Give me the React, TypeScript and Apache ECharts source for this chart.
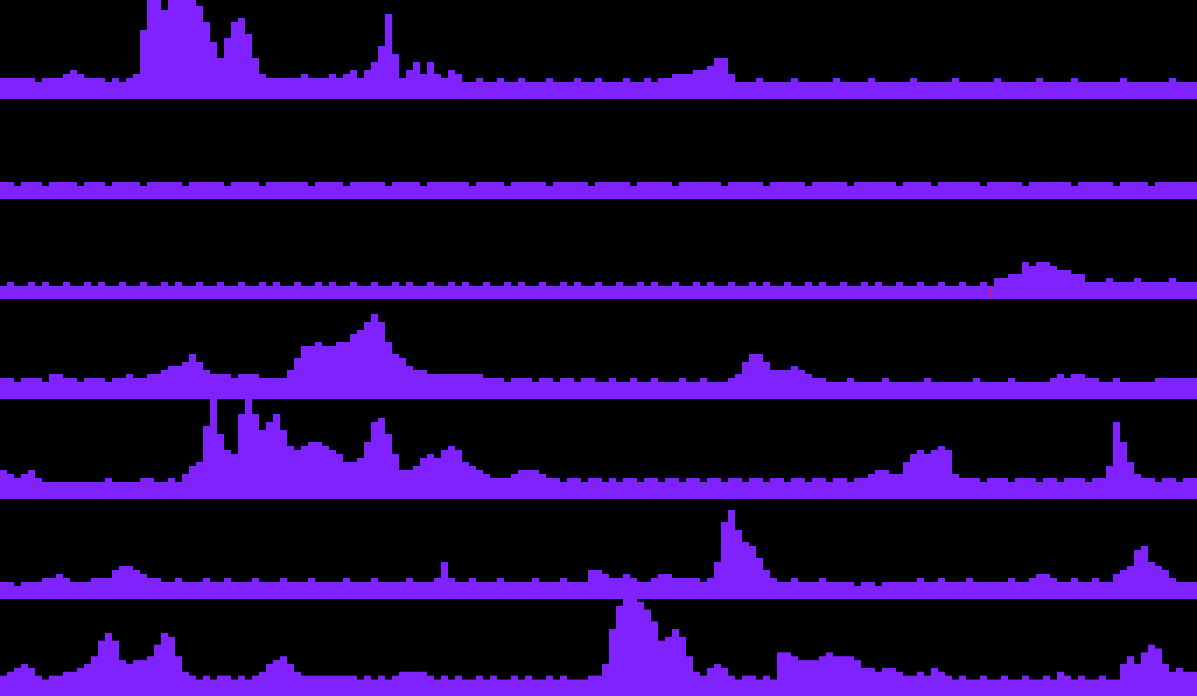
import React, { useEffect, useRef } from "react";
import * as echarts from "echarts";

// Levels per row: bar height = 4 px per level (+1 px), 171 bins of 7 px each.
const ROW1 = [
  5,5,5,5,5,4,5,5,5,6,
  7,6,5,5,5,4,5,4,5,6,
  17,25,25,22,25,25,25,25,23,19,
  14,10,15,19,20,16,10,6,5,5,
  5,5,5,6,5,5,5,6,5,6,
  7,5,7,9,13,21,11,5,7,9,
  6,9,6,5,7,6,4,4,5,4,
  4,5,4,4,5,4,4,4,5,4,
  4,4,5,4,4,5,4,4,4,5,
  4,4,5,4,5,5,6,6,6,7,
  7,8,10,10,6,4,4,4,5,4,
  4,4,4,5,4,4,4,4,4,5,
  4,4,4,4,5,4,4,4,4,4,
  5,4,4,4,4,4,5,4,4,4,
  4,4,5,4,4,4,4,4,5,4,
  4,4,4,5,4,4,4,4,4,4,
  5,4,4,4,4,4,4,5,4,4,
  4,
];
const ROW2 = [
  4,4,3,4,4,4,3,4,4,4,
  4,3,4,4,4,3,4,4,4,4,
  3,4,4,4,4,4,3,4,4,4,
  4,4,3,4,4,4,4,3,4,4,
  4,4,4,4,3,4,4,4,4,3,
  4,4,4,4,4,3,4,4,4,4,
  3,4,4,4,4,4,4,3,4,4,
  4,4,3,4,4,4,4,4,3,4,
  4,4,4,4,3,4,4,4,4,4,
  3,4,4,4,4,4,3,4,4,4,
  4,4,4,3,4,4,4,4,4,3,
  4,4,4,4,4,3,4,4,4,4,
  4,3,4,4,4,4,4,4,3,4,
  4,4,4,3,4,4,4,4,4,4,
  3,4,4,4,4,4,3,4,4,4,
  4,4,4,3,4,4,4,4,4,3,
  4,4,4,4,3,4,4,4,4,4,
  4,
];
const ROW3 = [
  3,4,3,3,4,3,4,3,3,4,
  3,3,4,3,4,3,3,4,3,3,
  4,3,3,4,3,4,3,3,4,3,
  3,4,3,3,4,3,3,4,3,4,
  3,3,4,3,3,4,3,4,3,3,
  4,3,3,4,3,3,4,3,4,3,
  3,4,3,3,4,3,4,3,3,4,
  3,3,4,3,4,3,3,4,3,3,
  4,3,4,3,3,4,3,3,4,3,
  3,4,3,4,3,3,4,3,3,4,
  3,4,3,3,4,3,3,4,3,4,
  3,3,4,3,3,4,3,4,3,3,
  4,3,3,4,3,4,3,3,4,3,
  3,4,3,3,4,3,3,4,3,3,
  4,3,5,5,6,6,9,8,9,9,
  8,7,7,6,6,4,4,4,5,4,
  4,4,5,4,4,4,4,5,4,4,
  4,
];
const ROW4 = [
  5,5,4,5,5,5,4,6,6,5,
  5,4,5,5,5,4,5,5,6,5,
  5,6,6,7,8,8,9,11,9,7,
  6,6,6,5,6,6,6,5,5,5,
  5,7,10,13,13,14,13,13,14,14,
  16,17,19,21,19,14,11,10,8,7,
  7,6,6,6,6,6,6,6,6,5,
  5,5,4,5,5,5,4,5,5,4,
  5,5,4,5,5,4,4,5,4,4,
  5,4,4,5,4,4,4,5,4,4,
  5,4,4,4,5,6,9,11,11,9,
  7,7,7,8,7,6,5,5,4,4,
  4,5,4,4,4,4,5,4,4,4,
  4,4,5,4,4,4,4,4,4,5,
  4,4,4,4,5,4,4,4,4,4,
  5,6,5,6,6,5,5,4,4,5,
  4,4,4,4,4,5,5,5,5,5,
  5,
];
const ROW5 = [
  7,6,5,6,7,5,4,4,4,4,
  4,4,4,4,4,5,4,4,4,4,
  5,5,4,4,5,4,6,8,9,18,
  25,16,12,11,21,25,21,17,19,21,
  17,13,12,13,14,14,13,12,11,9,
  9,10,14,19,20,16,11,7,7,8,
  10,11,10,12,13,12,9,8,7,6,
  5,5,5,6,7,7,7,6,5,5,
  4,5,5,4,5,5,4,5,4,5,
  5,4,5,5,4,5,5,4,5,5,
  4,5,5,4,5,5,4,5,5,4,
  5,5,4,5,5,4,5,5,4,5,
  5,4,5,5,6,7,7,6,6,9,
  11,12,11,12,13,12,6,5,5,5,
  4,5,5,5,4,5,5,5,4,5,
  5,4,5,5,5,4,5,5,8,19,
  14,9,6,5,5,4,5,5,4,5,
  5,
];
const ROW6 = [
  4,4,3,4,4,4,5,5,6,5,
  4,4,4,5,5,5,7,8,8,7,
  6,5,5,4,4,5,4,4,4,5,
  4,4,5,4,4,4,5,4,4,4,
  5,4,4,4,5,4,4,4,4,5,
  4,4,4,5,4,4,4,4,5,4,
  4,4,5,9,5,4,4,5,4,4,
  4,5,4,4,4,4,5,4,4,4,
  5,4,4,4,7,7,6,5,5,6,
  5,4,4,5,6,6,5,5,5,5,
  4,5,9,19,22,17,14,13,10,7,
  5,4,4,5,4,4,4,5,4,4,
  4,4,3,4,4,3,4,4,4,4,
  4,5,4,4,5,4,4,4,5,4,
  4,4,4,4,5,4,4,5,6,6,
  5,4,4,5,4,4,5,4,4,6,
  7,8,12,13,9,8,7,5,4,4,
  4,
];
const ROW7 = [
  5,6,7,8,7,5,4,5,5,6,
  6,7,8,10,14,16,14,9,8,9,
  9,10,13,16,15,10,6,5,4,5,
  4,5,5,4,5,4,5,6,8,9,
  10,8,6,5,5,5,5,5,5,5,
  5,4,5,4,5,4,5,6,6,6,
  6,5,4,5,4,5,4,4,5,4,
  5,4,4,5,4,5,4,4,5,4,
  5,4,4,4,5,5,8,17,23,25,
  25,24,22,19,14,15,17,15,10,6,
  5,7,8,7,5,4,5,5,4,5,
  4,11,11,10,9,9,9,10,11,10,
  10,10,9,7,7,6,7,7,6,5,
  5,6,5,7,6,5,4,5,4,4,
  5,4,4,5,4,4,5,4,4,5,
  4,6,5,4,5,4,4,5,4,4,
  8,10,8,11,13,12,8,6,7,6,
  6,
];

const ROWS = [ROW1, ROW2, ROW3, ROW4, ROW5, ROW6, ROW7];
const MARKER_ROW = 2;
const MARKER_BIN = 141;

const PURPLE = "#7f22fe";
const MARKER = "#ff1a1a";
const BIN_COUNT = ROW1.length;
const CATS = ROW1.map((_, i) => String(i));
const ROW_H = 100;
const LEVEL_MAX = 25;

export default function App() {
  const ref = useRef<HTMLDivElement>(null);
  useEffect(() => {
    if (!ref.current) return;
    const chart = echarts.init(ref.current, undefined, { renderer: "svg" });
    const grids = ROWS.map((_, r) => ({
      left: 0,
      right: 0,
      top: r * ROW_H,
      height: ROW_H,
      containLabel: false,
    }));
    const xAxes = ROWS.map((_, r) => ({
      type: "category" as const,
      gridIndex: r,
      data: CATS,
      boundaryGap: true,
      axisLine: { show: false },
      axisTick: { show: false },
      axisLabel: { show: false },
      splitLine: { show: false },
    }));
    const yAxes = ROWS.map((_, r) => ({
      type: "value" as const,
      gridIndex: r,
      min: 0,
      max: LEVEL_MAX,
      axisLine: { show: false },
      axisTick: { show: false },
      axisLabel: { show: false },
      splitLine: { show: false },
    }));
    const series = ROWS.map((row, r) => {
      const s: any = {
        type: "bar",
        xAxisIndex: r,
        yAxisIndex: r,
        data: row.map((v) => v + 0.25),
        barCategoryGap: "0%",
        barGap: "0%",
        itemStyle: { color: PURPLE },
        silent: true,
        clip: true,
      };
      if (r === MARKER_ROW) {
        s.markLine = {
          silent: true,
          symbol: ["none", "none"],
          label: { show: false },
          lineStyle: { color: MARKER, width: 1, type: "solid" },
          data: [
            [
              { coord: [CATS[MARKER_BIN], 0] },
              { coord: [CATS[MARKER_BIN], row[MARKER_BIN] + 0.25] },
            ],
          ],
        };
      }
      return s;
    });
    chart.setOption({
      animation: false,
      backgroundColor: "#000000",
      grid: grids,
      xAxis: xAxes,
      yAxis: yAxes,
      series,
    });
    return () => chart.dispose();
  }, []);
  return (
    <div
      ref={ref}
      style={{
        position: "absolute",
        left: 0,
        top: -1,
        width: 7 * BIN_COUNT,
        height: 697,
        background: "#000",
      }}
    />
  );
}
